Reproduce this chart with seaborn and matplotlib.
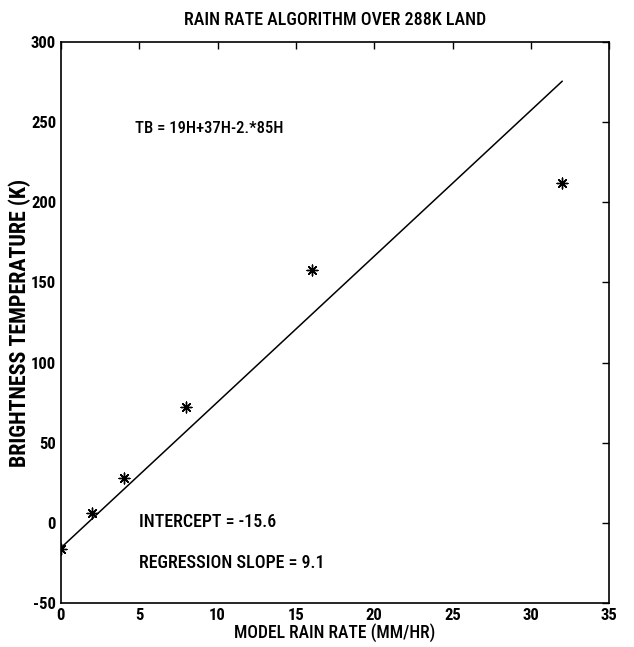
import numpy as np
import pandas as pd
import matplotlib
matplotlib.use("Agg")
import matplotlib.pyplot as plt
import seaborn as sns

# Data
rain_rate = [0, 2, 4, 8, 16, 32]
brightness_temp = [-16, 6, 28, 72, 158, 212]
intercept = -15.6
slope = 9.1
fit_x = [0, 32]

title = "RAIN RATE ALGORITHM OVER 288K LAND"
xlabel = "MODEL RAIN RATE (MM/HR)"
ylabel = "BRIGHTNESS TEMPERATURE (K)"
x_ticks = [0, 5, 10, 15, 20, 25, 30, 35]
y_ticks = [-50, 0, 50, 100, 150, 200, 250, 300]

sns.set_theme(style="white")
plt.rcParams['font.family'] = ['Roboto Condensed', 'Archivo Narrow', 'Liberation Sans', 'DejaVu Sans']
plt.rcParams['axes.unicode_minus'] = False
plt.rcParams['text.color'] = 'black'
plt.rcParams['axes.labelcolor'] = 'black'

pts = pd.DataFrame({"x": rain_rate, "y": brightness_temp})
fit = pd.DataFrame({"x": fit_x, "y": [intercept + slope * v for v in fit_x]})

fig = plt.figure(figsize=(6.34, 6.47), dpi=100)
ax = fig.add_axes([0.096, 0.068, 0.865, 0.867])

sns.lineplot(data=fit, x="x", y="y", ax=ax, color="black", linewidth=1.1)
sns.scatterplot(data=pts, x="x", y="y", ax=ax, marker=(8, 2, 0), s=60,
                color="black", linewidth=1.0, edgecolor="black")

ax.set_xlim(0, 35)
ax.set_ylim(-50, 300)
ax.set_xticks(x_ticks)
ax.set_yticks(y_ticks)
ax.tick_params(direction="in", top=True, right=True, length=5, width=1,
               colors="black", labelsize=12)
for lab in ax.get_xticklabels() + ax.get_yticklabels():
    lab.set_fontweight("bold")
for sp in ax.spines.values():
    sp.set_color("black")
    sp.set_linewidth(1.2)

ax.set_title(title, fontsize=13, pad=12, color="black", fontweight=500)
ax.set_xlabel(xlabel, fontsize=12.7, labelpad=0, fontweight=500)
ax.set_ylabel(ylabel, fontsize=15.8, labelpad=0, fontweight="bold")

ax.text(4.7, 246, "TB = 19H+37H-2.*85H", fontsize=12, va="center", ha="left", fontweight=500)
ax.text(5.0, 0.5, "INTERCEPT = -15.6", fontsize=13, va="center", ha="left", fontweight=500)
ax.text(5.0, -25, "REGRESSION SLOPE = 9.1", fontsize=13, va="center", ha="left", fontweight=500)

fig.savefig("out.png", dpi=100, facecolor="white")
